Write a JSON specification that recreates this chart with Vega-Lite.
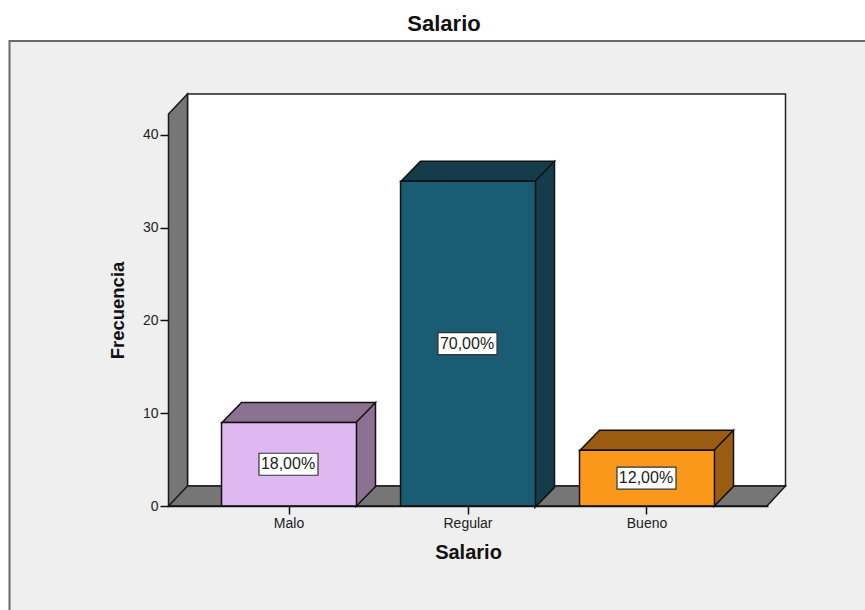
{
"$schema":"https://vega.github.io/schema/vega-lite/v6.json",
"width":600,"height":392,
"autosize":"none",
"padding":{"left":168,"top":114,"right":97,"bottom":104},
"background":"#ffffff",
"config":{"view":{"stroke":null},"font":"Liberation Sans"},
"title":{"text":"Salario","font":"Liberation Sans","fontSize":22,"fontWeight":"bold","color":"#111111","anchor":"middle","dx":-24,"offset":1},
"data":{"values":[
{"salario":"Malo","frecuencia":9,"porcentaje":"18,00%"},
{"salario":"Regular","frecuencia":35,"porcentaje":"70,00%"},
{"salario":"Bueno","frecuencia":6,"porcentaje":"12,00%"}
]},
"transform":[{"calculate":"datum.frecuencia/2","as":"centro"}],
"encoding":{
"x":{"field":"salario","type":"nominal","sort":null,"scale":{"domain":["Malo","Regular","Bueno"],"paddingInner":0.246,"paddingOuter":0.299},
"axis":{"title":"Salario","titleFontSize":20,"titleFontWeight":"bold","titleColor":"#111111","titlePadding":12,"labelAngle":0,"labelFontSize":14,"labelColor":"#222222","labelPadding":2,"tickSize":8,"tickColor":"#111111","tickWidth":1.5,"domainColor":"#111111","domainWidth":1.5,"zindex":1}},
"y":{"field":"frecuencia","type":"quantitative","scale":{"domain":[0,42.26],"nice":false},
"axis":{"title":"Frecuencia","values":[0,10,20,30,40],"titleFontSize":18.5,"titleFontWeight":"bold","titleColor":"#111111","titlePadding":15,"labelFontSize":14,"labelColor":"#222222","labelPadding":2,"tickSize":8,"tickColor":"#111111","tickWidth":1.5,"domain":false,"grid":false,"zindex":1}}
},
"layer":[
{"data":{"values":[{"frecuencia":0}]},
"mark":{"type":"point","filled":true,"opacity":1,"size":4,"shape":"M-279.5 120 L-279.5 -465 L600 -465 L600 120 Z","fill":"#efefef","stroke":"#6a6a6a","strokeWidth":2,"clip":false},
"encoding":{"x":{"datum":"Malo"},"y":{"datum":0}}},
{"data":{"values":[{"frecuencia":0}]},
"mark":{"type":"point","filled":true,"opacity":1,"size":4,"shape":"M-101.5 -412 L496.5 -412 L496.5 -20 L-101.5 -20 Z","fill":"#ffffff","stroke":"#222222","strokeWidth":1.5,"clip":false},
"encoding":{"x":{"datum":"Malo"},"y":{"datum":0}}},
{"data":{"values":[{"frecuencia":0}]},
"mark":{"type":"point","filled":true,"opacity":1,"size":4,"shape":"M-120.5 -392 L-101.5 -412 L-101.5 -20 L-120.5 0 Z M-120.5 0 L-101.5 -20 L496.5 -20 L478 0 Z","fill":"#767676","stroke":"#1a1a1a","strokeWidth":1.5,"clip":false},
"encoding":{"x":{"datum":"Malo"},"y":{"datum":0}}},
{"mark":{"type":"point","filled":true,"opacity":1,"size":4,"stroke":"#111111","strokeWidth":1.5,"clip":false},
"encoding":{
"fill":{"field":"salario","type":"nominal","sort":null,"legend":null,"scale":{"domain":["Malo","Regular","Bueno"],"range":["#8b7192","#143c4b","#9a5c10"]}},
"shape":{"field":"salario","type":"nominal","sort":null,"legend":null,"scale":{"domain":["Malo","Regular","Bueno"],"range":[
"M-67 0 L-47.5 -20 L86.5 -20 L67 0 Z M67 0 L86.5 -20 L86.5 64 L67 84 Z",
"M-67 0 L-47.5 -20 L86.5 -20 L67 0 Z M67 0 L86.5 -20 L86.5 306 L67 326 Z",
"M-67 0 L-47.5 -20 L86.5 -20 L67 0 Z M67 0 L86.5 -20 L86.5 36 L67 56 Z"]}}}},
{"mark":{"type":"bar","stroke":"#111111","strokeWidth":1.5},
"encoding":{"fill":{"field":"salario","type":"nominal","sort":null,"legend":null,"scale":{"domain":["Malo","Regular","Bueno"],"range":["#deb8f1","#1a5c74","#fa981c"]}}}},
{"mark":{"type":"point","filled":true,"opacity":1,"size":4,"shape":"M-30 -11 L29 -11 L29 11 L-30 11 Z","fill":"#ffffff","stroke":"#333333","strokeWidth":1.2},
"encoding":{"y":{"field":"centro","type":"quantitative"}}},
{"mark":{"type":"text","fontSize":16,"color":"#222222","align":"center","baseline":"middle","dx":-1},
"encoding":{"y":{"field":"centro","type":"quantitative"},"text":{"field":"porcentaje"}}}
],
"resolve":{"scale":{"fill":"independent"}}
}
